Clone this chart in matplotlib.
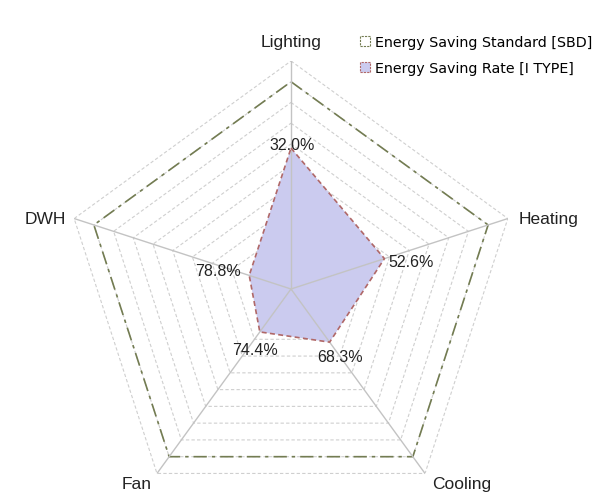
import numpy as np
import matplotlib
matplotlib.use("Agg")
import matplotlib.pyplot as plt
from matplotlib.patches import Patch

# данные: категории, подписи (доля экономии), откладываемые значения
categories = ["Lighting", "Heating", "Cooling", "Fan", "DWH"]
saving_rate = [32.0, 52.6, 68.3, 74.4, 78.8]
plotted = [68.0, 47.4, 31.7, 25.6, 21.2]
standard = [100, 100, 100, 100, 100]
ring_levels = [10, 20, 30, 40, 50, 60, 70, 80, 90, 100, 110]
r_max = 110

label_font = ["Liberation Sans", "DejaVu Sans"]

fig = plt.figure(figsize=(6.07, 5.02), dpi=100)
cx, cy, rad = 291, 212, 228
ax = fig.add_axes([(cx - rad) / 607, (cy - rad) / 502, 2 * rad / 607, 2 * rad / 502],
                  projection="polar")
ax.set_theta_offset(np.pi / 2)
ax.set_theta_direction(-1)
ax.set_ylim(0, r_max)
ax.axis("off")

n = len(categories)
ang = np.linspace(0, 2 * np.pi, n, endpoint=False)
ang_c = np.append(ang, ang[0])

# сетка: пунктирные пятиугольники
for lv in ring_levels:
    ax.plot(ang_c, [lv] * (n + 1), color="#cfcfcf", lw=0.8, ls=(0, (3, 2)), zorder=1)

# стандарт SBD
std_c = standard + standard[:1]
ax.plot(ang_c, std_c, color="#737c52", lw=1.2, ls=(0, (8, 3, 2, 3)), zorder=2)

# заливка I TYPE
val_c = plotted + plotted[:1]
ax.fill(ang_c, val_c, color="#cbcbef", zorder=3, lw=0)
ax.plot(ang_c, val_c, color="#b06868", lw=1.2, ls=(0, (3, 2)), zorder=5)

# оси-лучи
for a in ang:
    ax.plot([a, a], [0, r_max], color="#c3c3c3", lw=1.0, zorder=4)

# подписи категорий (смещения в пикселях)
cat_off = {
    "Lighting": (0, 20, "center", "center"),
    "Heating": (11, 0, "left", "center"),
    "Cooling": (7, -10, "left", "center"),
    "Fan": (-5, -10, "right", "center"),
    "DWH": (-8, 0, "right", "center"),
}
for a, name in zip(ang, categories):
    dx, dy, ha, va = cat_off[name]
    ax.annotate(name, (a, r_max), xytext=(dx, dy), textcoords="offset pixels",
                ha=ha, va=va, fontsize=12.5, family=label_font, color="#222222")

# подписи значений
val_off = [(1, 4, "center", "center"), (4, -3, "left", "center"),
           (10, -14, "center", "center"), (-5, -18, "center", "center"),
           (-31, 5, "center", "center")]
for a, v, rate, (dx, dy, ha, va) in zip(ang, plotted, saving_rate, val_off):
    ax.annotate(f"{rate:.1f}%", (a, v), xytext=(dx, dy), textcoords="offset pixels",
                ha=ha, va=va, fontsize=11.5, family=label_font, color="#222222", zorder=6)

handles = [
    Patch(facecolor="white", edgecolor="#737c52", ls=(0, (2, 1)), lw=0.8,
          label="Energy Saving Standard [SBD]"),
    Patch(facecolor="#cbcbef", edgecolor="#b06868", ls=(0, (2, 1)), lw=0.8,
          label="Energy Saving Rate [I TYPE]"),
]
fig.legend(handles=handles, loc="upper left", bbox_to_anchor=(360 / 607, 1 - 36 / 502),
           frameon=False, handlelength=0.7, handleheight=0.7,
           handletextpad=0.35, labelspacing=0.85, borderpad=0, borderaxespad=0,
           prop={"family": "DejaVu Sans", "size": 10.3})

fig.savefig("out.png", dpi=100)
